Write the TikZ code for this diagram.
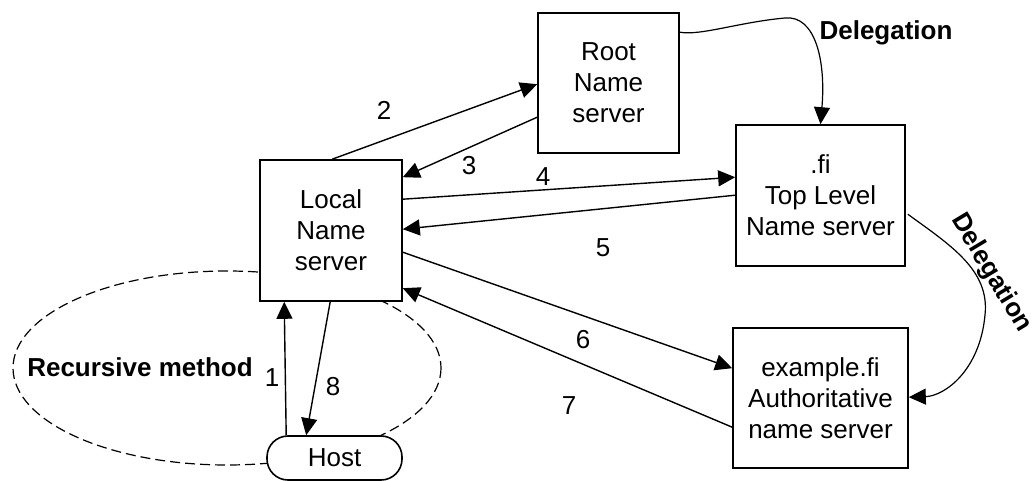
\documentclass[tikz,border=0pt]{standalone}
\usepackage{fontspec}
\setmainfont{Liberation Sans}
\usetikzlibrary{arrows.meta,calc}
\begin{document}
\begin{tikzpicture}[x=1pt,y=-1pt,
  font=\fontsize{26}{31}\selectfont,
  line width=1.4pt,
  server/.style={draw,line width=1.6pt,fill=white,align=center,inner sep=0pt},
  msg/.style={-{Triangle[length=17pt,width=16pt]}},
  num/.style={inner sep=0pt},
  boldlabel/.style={font=\fontsize{26}{31}\selectfont\bfseries,inner sep=0pt}]
\useasboundingbox (0,0) rectangle (1034,481);

% recursive-resolution region
\draw[dash pattern=on 10pt off 5pt,line width=1.2pt] (227,368) ellipse [x radius=214, y radius=97];

% servers
\node[server,minimum width=142pt,minimum height=141pt] (local) at (331,230.5) {Local\\Name\\server};
\node[server,minimum width=141pt,minimum height=140pt] (root) at (608.5,83) {Root\\Name\\server};
\node[server,minimum width=169pt,minimum height=141pt] (fi) at (820.5,195.5) {.fi\\Top Level\\Name server};
\node[server,minimum width=175pt,minimum height=140pt] (ex) at (820.5,398) {example.fi\\Authoritative\\name server};
\node[server,rounded corners=21pt,minimum width=135pt,minimum height=44pt] (host) at (334.5,458) {Host};

% query / answer messages
\draw[msg] ($(host.north west)+(20,0)$) -- ($(local.south west)+(25,0)$);
\draw[msg] ($(local.south west)+(71,0)$) -- ($(host.north west)+(40,0)$);
\draw[msg] ($(local.north west)+(73,0)$) -- ($(root.north west)+(0,72)$);
\draw[msg] ($(root.north west)+(0,105)$) -- ($(local.north east)+(0,18)$);
\draw[msg] ($(local.north east)+(0,40)$) -- ($(fi.north west)+(0,53)$);
\draw[msg] ($(fi.north west)+(0,71)$) -- ($(local.north east)+(0,70)$);
\draw[msg] ($(local.north east)+(0,93)$) -- ($(ex.north west)+(0,41)$);
\draw[msg] ($(ex.north west)+(0,100)$) -- ($(local.north east)+(0,129)$);

% step numbers
\node[num] (n1) at (272,378) {1};
\node[num] (n2) at (384,110) {2};
\node[num] (n3) at (469,166) {3};
\node[num] (n4) at (543,177) {4};
\node[num] (n5) at (603,248) {5};
\node[num] (n6) at (583,340) {6};
\node[num] (n7) at (569,406) {7};
\node[num] (n8) at (333,387) {8};

% delegation links
\draw[msg,line width=1.2pt] ($(root.north east)+(0,20)$) .. controls (700,36) and (740,22) .. (785,18)
  .. controls (815,15) and (826,60) .. (fi.north);
\draw[msg,line width=1.2pt] ($(fi.north east)+(2,90)$) .. controls (950,245) and (990,270) .. (985,315)
  .. controls (980,370) and (945,396) .. ($(ex.north east)+(0,70)$);

\node[boldlabel] (del1) at (886,33) {Delegation};
\node[boldlabel,rotate=-59] (del2) at (991,273) {Delegation};
\node[boldlabel] (rec) at (140,367) {Recursive method};
\end{tikzpicture}
\end{document}
